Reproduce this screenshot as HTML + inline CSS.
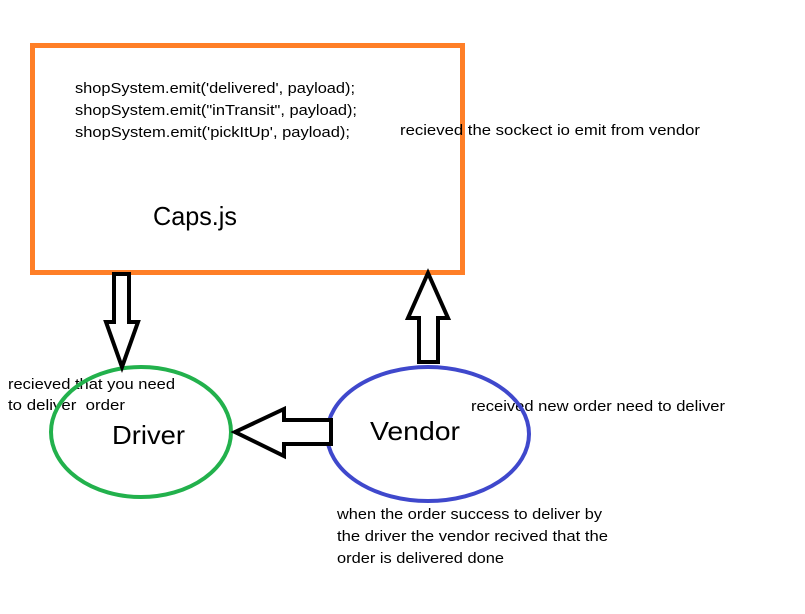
<!DOCTYPE html>
<html><head><meta charset="utf-8"><style>
html,body{margin:0;padding:0;background:#fff;}
svg{display:block;}
text{font-family:"Liberation Sans",sans-serif;fill:#000;}
</style></head><body>
<svg width="805" height="614" viewBox="0 0 805 614" xmlns="http://www.w3.org/2000/svg">
<rect x="0" y="0" width="805" height="614" fill="#fff"/>
<rect x="32.5" y="45.5" width="430" height="227" fill="none" stroke="#ff7f27" stroke-width="5"/>
<g font-size="14.5">
<text x="75" y="93" textLength="280" lengthAdjust="spacingAndGlyphs">shopSystem.emit('delivered', payload);</text>
<text x="75" y="115" textLength="282" lengthAdjust="spacingAndGlyphs">shopSystem.emit("inTransit", payload);</text>
<text x="75" y="137" textLength="275" lengthAdjust="spacingAndGlyphs">shopSystem.emit('pickItUp', payload);</text>
<text x="400" y="135" textLength="300" lengthAdjust="spacingAndGlyphs">recieved the sockect io emit from vendor</text>
<text x="471" y="411" textLength="254" lengthAdjust="spacingAndGlyphs">received new order need to deliver</text>
<text x="8" y="389" textLength="167" lengthAdjust="spacingAndGlyphs">recieved that you need</text>
<text x="8" y="410" textLength="117" lengthAdjust="spacingAndGlyphs">to deliver&#160; order</text>
<text x="337" y="519" textLength="265" lengthAdjust="spacingAndGlyphs">when the order success to deliver by</text>
<text x="337" y="541" textLength="271" lengthAdjust="spacingAndGlyphs">the driver the vendor recived that the</text>
<text x="337" y="563" textLength="167" lengthAdjust="spacingAndGlyphs">order is delivered done</text>
</g>
<text x="153" y="225" font-size="26" textLength="84" lengthAdjust="spacingAndGlyphs">Caps.js</text>
<ellipse cx="141" cy="432" rx="90" ry="65" fill="none" stroke="#22b14c" stroke-width="4"/>
<ellipse cx="428" cy="434" rx="101" ry="67" fill="none" stroke="#3f48cc" stroke-width="4"/>
<text x="112" y="444" font-size="26" textLength="73" lengthAdjust="spacingAndGlyphs">Driver</text>
<text x="370" y="440" font-size="26" textLength="90" lengthAdjust="spacingAndGlyphs">Vendor</text>
<polygon points="114,274 129,274 129,322 138,322 122,367 106,322 114,322" fill="#fff" stroke="#000" stroke-width="4" stroke-linejoin="miter"/>
<polygon points="428,273 448,318 438,318 438,362 419,362 419,318 408,318" fill="#fff" stroke="#000" stroke-width="4"/>
<polygon points="235,432 284,409 284,420 331,420 331,444 284,444 284,456" fill="#fff" stroke="#000" stroke-width="4"/>
</svg>
</body></html>
